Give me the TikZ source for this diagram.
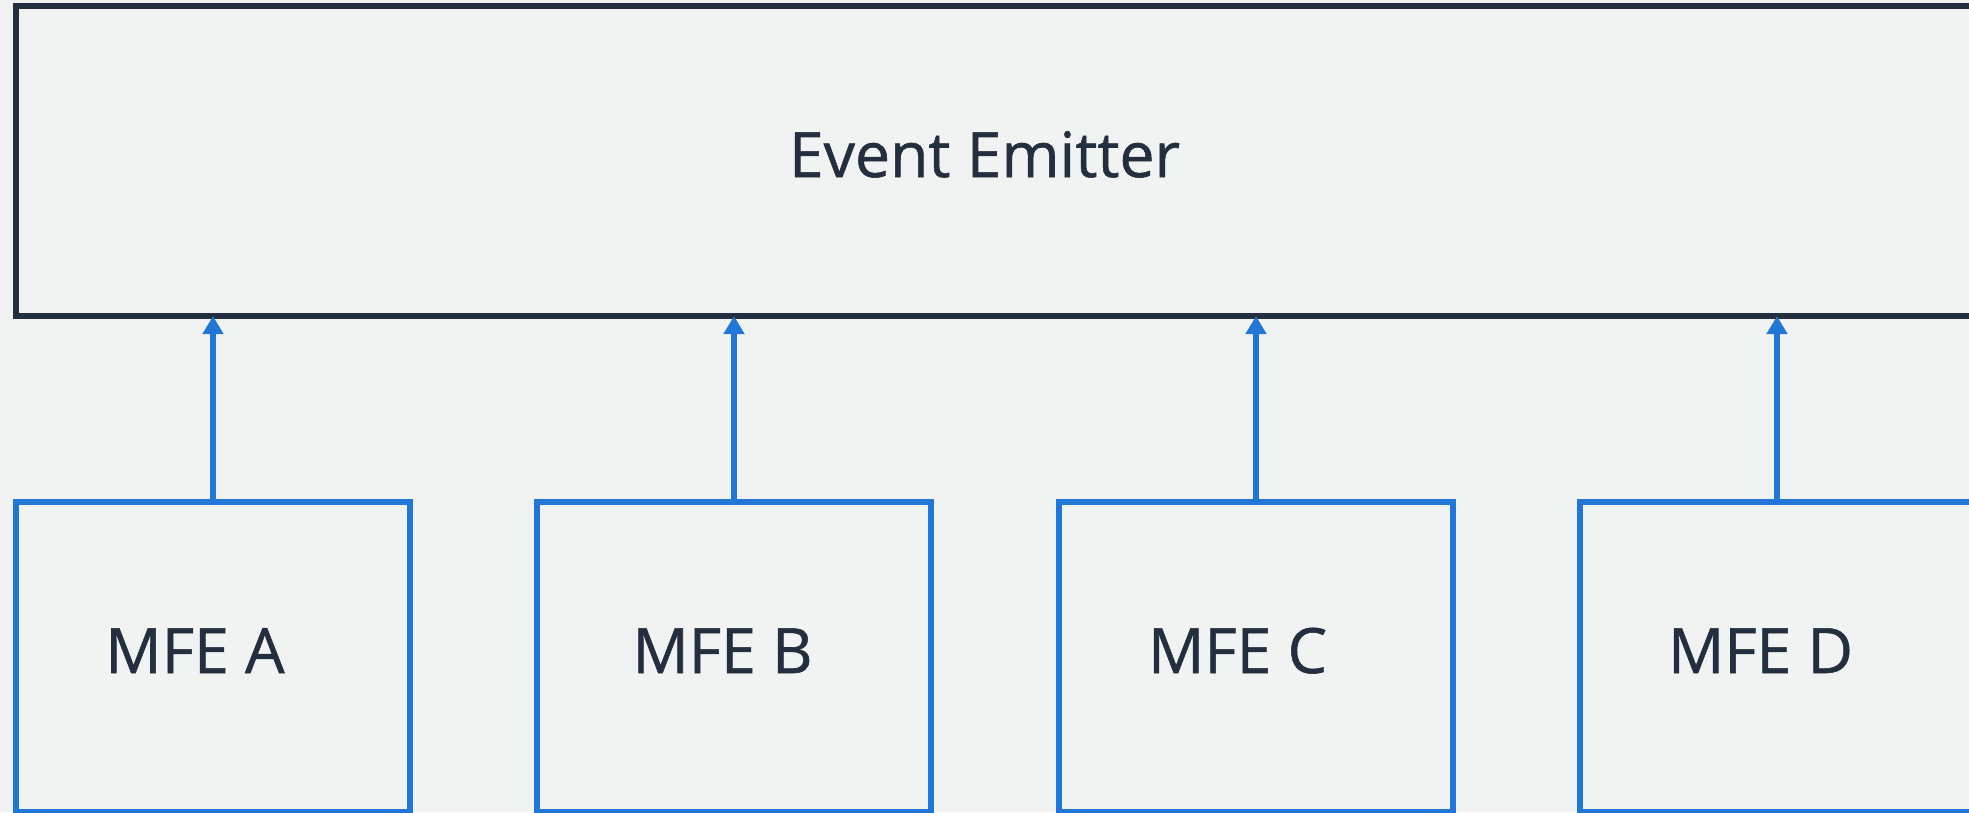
\documentclass[tikz,border=0pt]{standalone}
\usepackage{fontspec}
\setmainfont{Open Sans}[FakeBold=0.9]
\usetikzlibrary{arrows.meta}
\definecolor{pagebg}{HTML}{F1F2F2}
\definecolor{ink}{HTML}{232F3E}
\definecolor{mfeblue}{HTML}{2176D6}
\tikzset{
  emitterbox/.style={draw=ink, line width=6pt, inner sep=0pt, outer sep=0pt,
    minimum width=1969pt, minimum height=310pt},
  mfebox/.style={draw=mfeblue, line width=6pt, inner sep=0pt, outer sep=0pt,
    minimum width=394pt, minimum height=310pt},
  lbl/.style={text=ink, font=\fontsize{62.5}{70}\selectfont, inner sep=0pt, anchor=base},
  feed/.style={draw=mfeblue, line width=5.5pt,
    -{Triangle[length=18pt, width=20pt]}}
}
\begin{document}
\begin{tikzpicture}[x=1pt, y=-1pt]
  % page and canvas
  \fill[pagebg] (0,0) rectangle (1969,812);
  \useasboundingbox (0,0) rectangle (1969,812);
  \clip (0,0) rectangle (1969,812);

  % shared event bus
  \node[emitterbox] (emitter) at (1000.5,161) {};
  \node[lbl] (emittertext) at (984.5,177) {Event Emitter};

  % micro frontends
  \node[mfebox] (mfeA) at (213,657) {};
  \node[mfebox] (mfeB) at (734,657) {};
  \node[mfebox] (mfeC) at (1256,657) {};
  \node[mfebox] (mfeD) at (1777,657) {};

  \node[lbl] (mfeAtext) at (195,673) {MFE A};
  \node[lbl] (mfeBtext) at (722.5,673) {MFE B};
  \node[lbl] (mfeCtext) at (1237.5,673) {MFE C};
  \node[lbl] (mfeDtext) at (1760.5,673) {MFE D};

  % each frontend emits into the bus
  \foreach \m in {mfeA,mfeB,mfeC,mfeD}
    \draw[feed] (\m.north) -- (\m.north |- emitter.south);
\end{tikzpicture}
\end{document}
